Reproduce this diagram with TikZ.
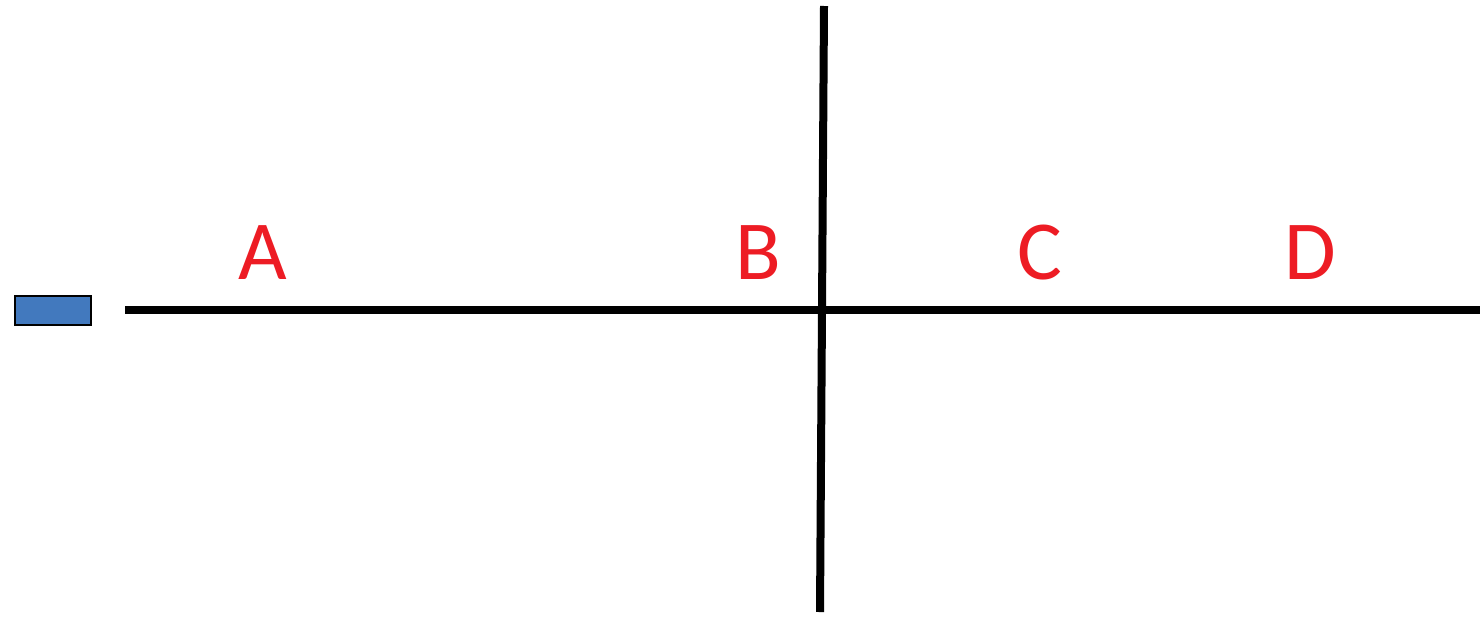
\documentclass[tikz,border=0pt]{standalone}
\usepackage{fontspec}
\setmainfont{Carlito}
\definecolor{boxblue}{HTML}{4279BE}
\definecolor{lblred}{HTML}{ED1C24}
\begin{document}
\begin{tikzpicture}[x=1pt,y=-1pt,
  lbl/.style={text=lblred,font=\fontsize{84}{90}\selectfont,inner sep=0pt,anchor=base},
  bar/.style={line width=8pt}]
\useasboundingbox (0,0) rectangle (1480,616);
\coordinate (h1) at (125,310);
\coordinate (h2) at (1480,310);
\coordinate (v1) at (824,6);
\coordinate (v2) at (820,612);
\draw[bar] (h1) -- (h2);
\draw[bar] (v1) -- (v2);
\node[draw=black,line width=2pt,fill=boxblue,minimum width=76pt,minimum height=29pt,inner sep=0pt] (box) at (52.5,310) {};
\node[lbl] (A) at (263,279) {A};
\node[lbl] (B) at (758,279) {B};
\node[lbl] (C) at (1040,279) {C};
\node[lbl] (D) at (1310,279) {D};
\end{tikzpicture}
\end{document}
